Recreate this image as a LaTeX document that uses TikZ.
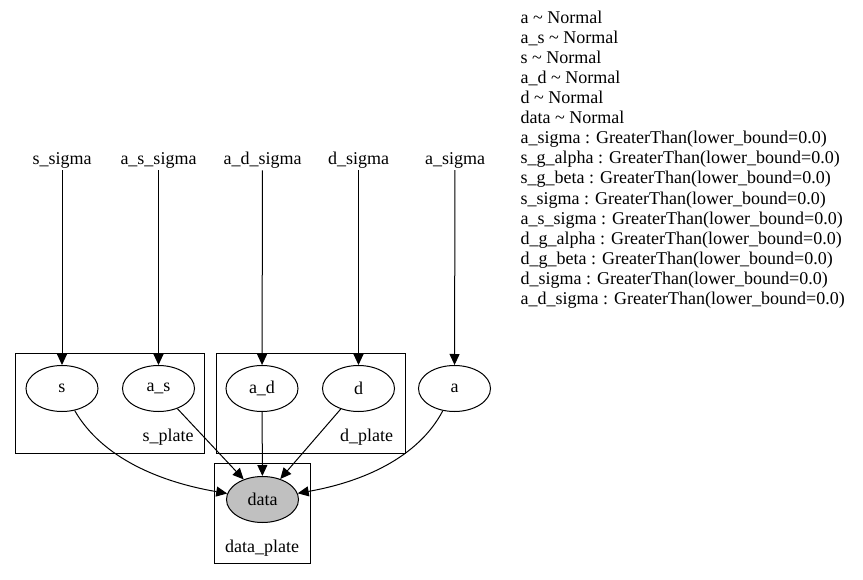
\documentclass[tikz,border=0pt]{standalone}
\usepackage{fontspec}
\setmainfont{Liberation Serif}
\usetikzlibrary{shapes.geometric,arrows.meta}
\begin{document}
\begin{tikzpicture}[x=1pt,y=-1pt,
  every node/.style={font=\fontsize{18}{20.1}\selectfont},
  var/.style={draw,ellipse,minimum width=72pt,minimum height=46pt,inner sep=0pt,line width=1pt},
  obs/.style={var,fill={rgb,255:red,192;green,192;blue,192}},
  param/.style={inner sep=2pt},
  plate/.style={draw,line width=1pt},
  edge/.style={-{Triangle[length=11pt,width=10pt]},line width=1pt}]
\useasboundingbox (0,0) rectangle (863,580);
% plates
\draw[plate] (15.5,353.3) rectangle (204.7,453.3);
\draw[plate] (216,353.3) rectangle (405,453.3);
\draw[plate] (214.3,463.3) rectangle (310.7,563.3);
\node (splate) at (168,437) {s\_plate};
\node (dplate) at (366.5,437) {d\_plate};
\node (dataplate) at (262,548) {data\_plate};
% params
\node[param] (ssig) at (62,160) {s\_sigma};
\node[param] (assig) at (158.5,160) {a\_s\_sigma};
\node[param] (adsig) at (262.5,160) {a\_d\_sigma};
\node[param] (dsig) at (358.5,160) {d\_sigma};
\node[param] (asig) at (455,160) {a\_sigma};
% variables
\node[var] (s) at (62,388.5) {s};
\node[var] (as) at (158.5,388.5) {a\_s};
\node[var] (ad) at (262,388.5) {a\_d};
\node[var] (d) at (358.5,388.5) {d};
\node[var] (a) at (454.5,388.5) {a};
\node[obs] (data) at (262.5,499.5) {data};
% edges
\draw[edge] (ssig) -- (s);
\draw[edge] (assig) -- (as);
\draw[edge] (adsig) -- (ad);
\draw[edge] (dsig) -- (d);
\draw[edge] (asig) -- (a);
\draw[edge] (s) .. controls (102,458) and (160,482) .. (data);
\draw[edge] (as) -- (data);
\draw[edge] (ad) -- (data);
\draw[edge] (d) -- (data);
\draw[edge] (a) .. controls (418,458) and (362,482) .. (data);
% legend
\node[anchor=north west,align=left,inner sep=0pt] (legend) at (520.5,10.5) {%
a \textasciitilde{} Normal\\
a\_s \textasciitilde{} Normal\\
s \textasciitilde{} Normal\\
a\_d \textasciitilde{} Normal\\
d \textasciitilde{} Normal\\
data \textasciitilde{} Normal\\
a\_sigma : GreaterThan(lower\_bound=0.0)\\
s\_g\_alpha : GreaterThan(lower\_bound=0.0)\\
s\_g\_beta : GreaterThan(lower\_bound=0.0)\\
s\_sigma : GreaterThan(lower\_bound=0.0)\\
a\_s\_sigma : GreaterThan(lower\_bound=0.0)\\
d\_g\_alpha : GreaterThan(lower\_bound=0.0)\\
d\_g\_beta : GreaterThan(lower\_bound=0.0)\\
d\_sigma : GreaterThan(lower\_bound=0.0)\\
a\_d\_sigma : GreaterThan(lower\_bound=0.0)};
\end{tikzpicture}
\end{document}
